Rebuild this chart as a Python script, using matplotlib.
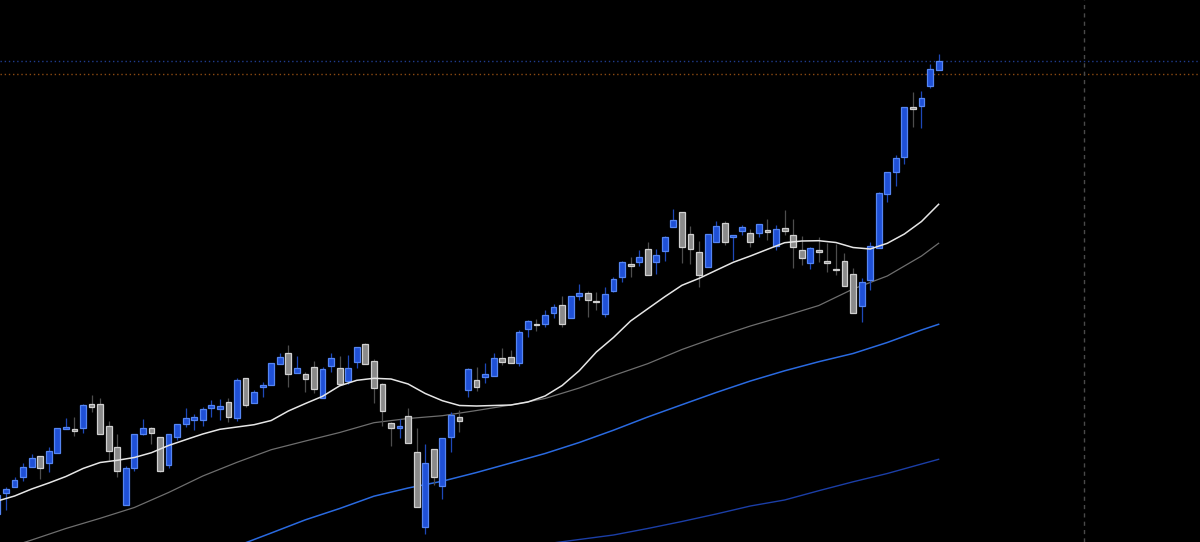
import numpy as np
import matplotlib
matplotlib.use("Agg")
import matplotlib.pyplot as plt

# candle data (open, high, low, close)
opens = [28, 49.3, 54.7, 64.7, 75.3, 85.7, 78.7, 89.3, 113.3, 113.3,
         114.3, 137.7, 138, 116, 94.7, 37, 74.3, 107.7, 113.7, 105,
         77, 105, 118.3, 122.3, 122.3, 134.3, 132.7, 140.3, 124, 163.7,
         139, 155.3, 157.3, 177.7, 188.7, 169.3, 167.7, 175.3, 143.7, 176,
         173.7, 161, 180.3, 197.7, 181, 158, 118.7, 114, 126, 89.7,
         15.3, 93.3, 56.3, 105, 125.3, 152, 162, 164.7, 166, 184,
         184.7, 179.3, 213.3, 218, 217.7, 228.7, 237, 224.3, 246, 248.7,
         241, 227.7, 251.3, 264.7, 278, 279.7, 292.7, 280.3, 290.7, 314.7,
         329.7, 307.7, 289.7, 274.7, 300, 318.7, 305, 310.7, 308.7, 308.7,
         312, 296, 313.7, 307, 291.7, 279.3, 291.7, 281, 273.3, 281,
         268, 236, 261.7, 294.3, 348, 369.7, 385, 434.7, 436.3, 456,
         471.7]
highs = [49, 54.7, 65, 79.3, 87.7, 86.3, 94.7, 114, 124.3, 125,
         137.7, 147, 143.7, 121, 108, 76.3, 107.7, 122.7, 115, 105,
         108, 117.7, 133.7, 128.3, 135, 141.7, 143, 144.3, 163.7, 163.7,
         152, 159.7, 179, 188.7, 197, 186.3, 170.3, 181, 175.3, 188.7,
         186, 187, 195.3, 198.7, 183, 158.7, 120.3, 123, 133.7, 113.7,
         98, 93.3, 104.3, 129.7, 132, 173.7, 174.7, 179.3, 188.7, 193.7,
         192, 212, 222, 222.7, 232, 237.7, 246, 246, 258, 251.3,
         250.3, 255.3, 265.3, 281.3, 285.3, 292, 300, 292.7, 306, 332.7,
         330.3, 316, 301.3, 307.7, 321.3, 321.3, 307, 317.3, 313.3, 318,
         323.3, 316.7, 332, 323, 306, 295.3, 304.7, 298.7, 298, 288.7,
         274.3, 263.7, 300.3, 350.3, 370.3, 387, 435.3, 450.3, 451, 477.7,
         487.7]
lows = [26, 32, 54.7, 61.3, 75, 63, 70.3, 89, 113.3, 106.3,
        109.3, 130.3, 107.7, 82, 65.3, 37, 71, 107, 97.7, 70,
        73.7, 101.7, 115.3, 111.7, 116, 125.3, 122, 120.3, 121, 135.3,
        139, 145.3, 157.3, 177.7, 155.3, 168.7, 150.3, 148.7, 143.7, 170.3,
        157, 157.7, 173.7, 178.3, 138.7, 116, 96.3, 104.3, 99.3, 35,
        7.7, 57, 42.7, 90.3, 110.3, 145.3, 151.3, 159.3, 166, 177,
        178.7, 176, 204.7, 211.3, 214.7, 223.7, 214.7, 224.3, 242, 224.7,
        232, 225.3, 250.3, 260, 265.3, 276, 266.7, 268, 281.3, 314.7,
        279.3, 278, 254.7, 274.7, 300, 297, 282, 306.7, 295.3, 305.3,
        302, 292, 307, 274.3, 277, 272.7, 280.3, 270.3, 267, 256.3,
        229.3, 220.3, 252, 294.3, 340.3, 356.3, 377.7, 415.3, 414.3, 454.3,
        471.7]
closes = [47, 52.7, 61.7, 75, 83.7, 74, 90.7, 113.7, 115, 111.3,
          137, 135, 107.7, 90.7, 70.7, 73.7, 107.7, 114.3, 109, 71,
          108, 117.7, 124, 125, 132.7, 136.7, 136, 124.7, 161.7, 137,
          150, 157, 179, 184.7, 167.7, 173.7, 163.3, 152.7, 172.7, 183.7,
          157.7, 174.3, 195.3, 178.3, 153.7, 131, 114.3, 116, 99.3, 35,
          79.3, 64.7, 104.3, 127, 121, 172.7, 154.7, 168.3, 184, 179.7,
          179.3, 209.7, 220.7, 216.7, 227, 234.7, 217.7, 246, 249.3, 242,
          239.7, 248, 262.7, 280.3, 275.7, 285.3, 266.7, 286.7, 305, 322,
          294.7, 293.3, 267.3, 307.7, 316.3, 300, 307, 314.7, 299.7, 318,
          310.3, 312.7, 311.3, 294.7, 283.7, 293.7, 290, 279.3, 271.7, 256.3,
          229.3, 259.7, 296.3, 348.7, 369.7, 384.3, 435.3, 432.7, 444.3, 473,
          481]

# moving averages, sampled at candle indices
ma_fast_idx = list(range(0, 111, 2))
ma_fast = [41, 46, 53, 59, 65.5, 73.5, 79.5, 81.7, 84.5, 89.3,
           96.5, 102.3, 108, 112.7, 115, 117.3, 121.5, 131, 138.5, 145.7,
           156.2, 161.7, 163.7, 163, 158, 148.5, 141.3, 136.5, 136, 136.5,
           137, 140, 146, 156.5, 171.3, 190, 204.5, 221, 233.2, 245.3,
           256.7, 263.6, 271.7, 279.7, 286, 292.7, 299.3, 301, 301.3, 299.5,
           294.5, 293, 298.7, 308, 320.5, 337.7]

ma_mid_idx = [0, 4, 8, 12, 16, 20, 24, 28, 32, 36, 40, 44, 48, 52, 56,
              60, 64, 68, 72, 76, 80, 84, 88, 92, 96, 100, 104, 108, 110]
ma_mid = [-9, 2, 13.5, 23.7, 34.5, 49.5, 66, 79.7, 92.3, 101, 109.5, 119.3,
          123.5, 126.3, 131.5, 137, 143.5, 154, 166.5, 178.3, 192.5, 204.7,
          216, 226, 236.5, 253, 266, 286, 298.7]

ma_slow_idx = [28, 32, 36, 40, 44, 48, 52, 56, 60, 64, 68, 72, 76, 80, 84,
               88, 92, 96, 100, 104, 108, 110]
ma_slow = [-4, 9, 22.2, 33.5, 45.8, 54, 60.8, 69.5, 79, 88.5, 99.5, 111.8,
           125, 137.3, 149.5, 161, 171.2, 180.3, 188.5, 199.5, 212, 217.7]

ma_long_idx = [64, 68, 72, 76, 80, 84, 88, 92, 96, 100, 104, 108, 110]
ma_long = [-2, 2.5, 7, 13.5, 20.5, 28, 36, 42, 51.3, 60.2, 68.5, 78, 82.7]

last_price = 481
ref_price = 468.5
cursor_idx = 127

o = np.array(opens)
h = np.array(highs)
l = np.array(lows)
c = np.array(closes)
x = np.arange(len(o))
up = c >= o

fig = plt.figure(figsize=(12, 5.42), dpi=100, facecolor="black")
ax = fig.add_axes([0, 0, 1, 1])
ax.set_facecolor("black")

# moving averages behind the candles
ax.plot(ma_long_idx, ma_long, color="#1b3ea6", lw=1.0, zorder=1)
ax.plot(ma_slow_idx, ma_slow, color="#2a6ae0", lw=1.1, zorder=1)
ax.plot(ma_mid_idx, ma_mid, color="#6e6e6e", lw=0.9, zorder=1)
ax.plot(ma_fast_idx, ma_fast, color="#e6e6e6", lw=1.1, zorder=4)

# wicks
ax.vlines(x[up], l[up], h[up], color="#1e48b8", lw=0.9, zorder=2)
ax.vlines(x[~up], l[~up], h[~up], color="#4d4d4d", lw=0.9, zorder=2)

# bodies, keep a minimum height so dojis show
bottom = np.minimum(o, c)
height = np.maximum(np.abs(c - o), 1.8)
ax.bar(x[up], height[up], bottom=bottom[up], width=0.68,
       color="#1f50d6", edgecolor="#5585f2", lw=0.9, zorder=3)
ax.bar(x[~up], height[~up], bottom=bottom[~up], width=0.68,
       color="#8a8a8a", edgecolor="#d0d0d0", lw=0.9, zorder=3)

# price lines and crosshair
ax.axhline(last_price, color="#1f3c8c", lw=1, ls=(0, (1, 2)), zorder=0)
ax.axhline(ref_price, color="#8c4a12", lw=1, ls=(0, (1, 2)), zorder=0)
ax.axvline(cursor_idx, color="#4a4a4a", lw=1, ls=(0, (3, 3)), zorder=0)

ax.set_xlim(0.299, 140.55)
ax.set_ylim(0, 542)
ax.axis("off")

fig.savefig("out.png", dpi=100, facecolor="black")
